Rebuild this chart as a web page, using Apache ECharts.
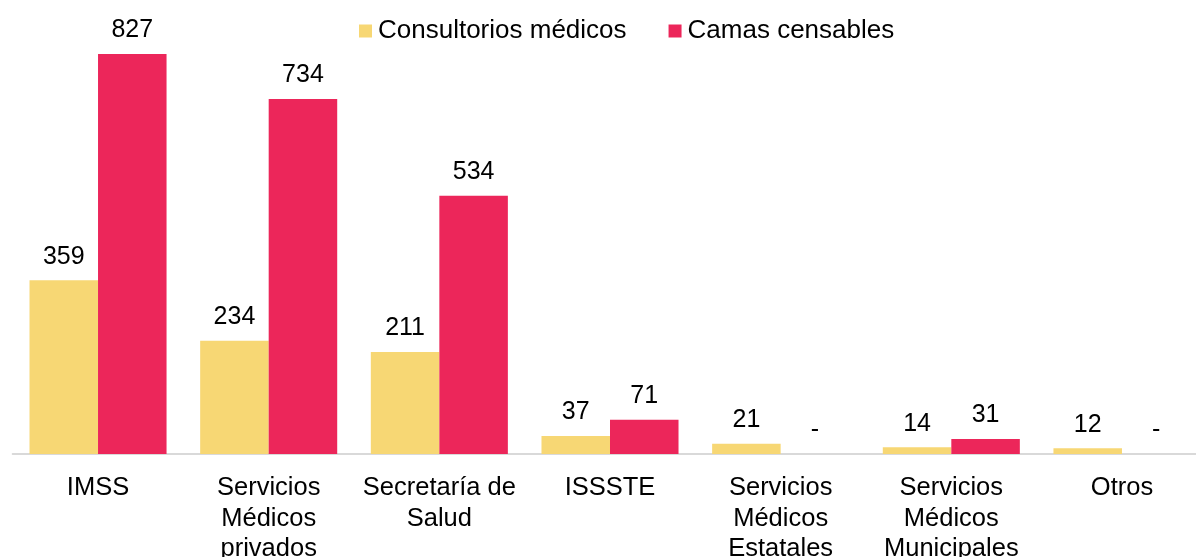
<!DOCTYPE html>
<html>
<head>
<meta charset="utf-8">
<script src="https://cdn.jsdelivr.net/npm/echarts@6/dist/echarts.min.js"></script>
<style>
html,body{margin:0;padding:0;background:#fff;}
#chart{width:1196px;height:557px;}
</style>
</head>
<body>
<div id="chart"></div>
<script>
const categories = ['IMSS', 'Servicios\nMédicos\nprivados', 'Secretaría de\nSalud', 'ISSSTE', 'Servicios\nMédicos\nEstatales', 'Servicios\nMédicos\nMunicipales', 'Otros'];
const consultorios = [359, 234, 211, 37, 21, 14, 12];
const camas = [827, 734, 534, 71, 0, 31, 0];

const chart = echarts.init(document.getElementById('chart'));
const font = 'Liberation Sans, Arial, sans-serif';
const labelCfg = {
  show: true,
  position: 'top',
  distance: 11,
  color: '#000',
  fontSize: 25,
  fontFamily: font,
  formatter: p => p.value === 0 ? '-' : String(p.value)
};
chart.setOption({
  animation: false,
  backgroundColor: '#fff',
  legend: {
    top: 13,
    left: 354,
    itemWidth: 13,
    itemHeight: 13,
    itemGap: 42,
    icon: 'rect',
    textStyle: {fontSize: 26, fontFamily: font, color: '#000', padding: [0,0,0,1]},
    data: ['Consultorios médicos', 'Camas censables']
  },
  grid: {left: 12.7, right: -11.3, top: 54, bottom: 103, containLabel: false, outerBoundsMode: 'none'},
  xAxis: {
    type: 'category',
    data: categories,
    axisLine: {lineStyle: {color: '#d9d9d9', width: 2}},
    axisTick: {show: false},
    axisLabel: {color: '#000', fontSize: 25.5, fontFamily: font, lineHeight: 30.5, margin: 19, interval: 0}
  },
  yAxis: {
    type: 'value',
    min: 0,
    max: 827,
    show: false,
    splitLine: {show: false}
  },
  series: [
    {name: 'Consultorios médicos', type: 'bar', data: consultorios, itemStyle: {color: '#F7D774'}, barGap: '0%', barCategoryGap: '19.7%', label: labelCfg},
    {name: 'Camas censables', type: 'bar', data: camas, itemStyle: {color: '#EC265A'}, barGap: '0%', barCategoryGap: '19.7%', label: labelCfg}
  ]
});
</script>
</body>
</html>
